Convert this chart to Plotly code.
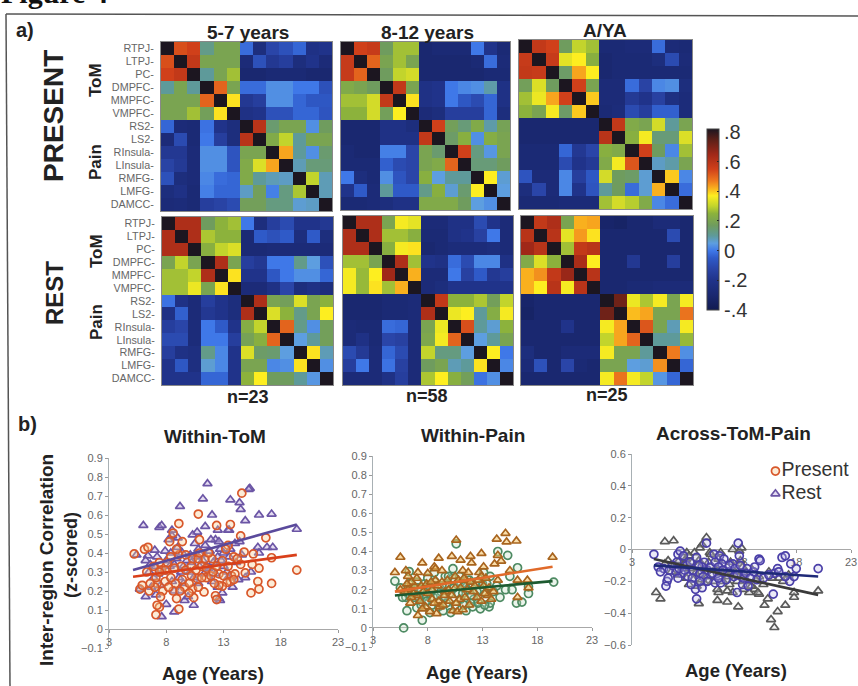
import plotly.graph_objects as go

W, H = 858, 686
D = 0.82

regions = ["RTPJ", "LTPJ", "PC", "DMPFC", "MMPFC", "VMPFC", "RS2", "LS2", "RInsula", "LInsula", "RMFG", "LMFG", "DAMCC"]
region_ticks = [r + "-" for r in regions]

present_5_7 = [
 [D,.53,.55,.12,.2,.2,-.02,-.25,-.12,-.08,-.03,-.22,-.2],
 [.53,D,.58,.2,.2,.2,-.27,-.08,-.18,-.15,-.25,-.2,-.27],
 [.55,.58,D,.1,.2,.27,-.3,-.3,-.28,-.28,-.28,-.3,-.3],
 [.1,.2,.1,D,.5,.2,-.02,-.02,.03,.03,.0,0,-.08],
 [.2,.2,.2,.5,D,.38,-.18,-.15,.03,.03,-.03,-.06,-.06],
 [.2,.2,.27,.18,.38,D,-.22,-.2,-.08,-.08,-.03,-.03,-.07],
 [-.03,-.27,-.28,-.01,-.2,-.25,D,.6,.15,.2,.2,.03,.17],
 [-.27,-.1,-.28,0,-.15,-.25,.6,D,.22,.3,.1,.2,.2],
 [-.18,-.18,-.27,.03,.03,-.07,.2,.2,D,.43,.1,.03,.15],
 [-.13,-.17,-.27,.03,.03,-.07,.22,.33,.43,D,.08,.14,.14],
 [-.08,-.25,-.27,.02,-.02,-.03,.22,.1,.08,.07,D,.3,.08],
 [-.25,-.22,-.28,.01,-.03,-.03,.07,.18,.01,.13,.28,D,.08],
 [-.27,-.26,-.28,-.15,-.13,-.1,.18,.18,.13,.13,.06,.07,D],
]
present_8_12 = [
 [D,.55,.57,.17,.27,.27,-.3,-.28,-.28,-.28,0,-.2,-.28],
 [.57,D,.5,.2,.27,.2,-.3,-.3,-.3,-.3,-.28,-.02,-.27],
 [.57,.5,D,.17,.3,.32,-.3,-.3,-.3,-.3,-.3,-.28,-.28],
 [.22,.2,.17,D,.58,.2,-.22,-.2,.0,.02,.03,.09,-.22],
 [.27,.27,.32,.58,D,.38,-.22,-.2,0,-.06,-.1,-.03,-.22],
 [.25,.25,.32,.18,.37,D,-.27,-.25,-.15,-.15,-.15,-.03,-.25],
 [-.3,-.3,-.3,-.22,-.22,-.25,D,.55,.18,.14,.22,.09,.19],
 [-.3,-.3,-.3,-.22,-.22,-.22,.58,D,.16,.24,.03,.23,.2],
 [-.28,-.3,-.3,.01,.01,-.12,.2,.15,D,.55,.13,.04,.2],
 [-.28,-.28,-.28,-.04,-.1,-.12,.2,.22,.5,D,.14,.14,.17],
 [0,-.25,-.28,.03,-.07,-.12,.24,.05,.1,.1,D,.37,.06],
 [-.2,-.05,-.27,.1,-.05,-.05,.12,.24,.06,.15,.37,D,.05],
 [-.28,-.28,-.27,-.25,-.22,-.22,.22,.22,.22,.17,.05,.03,D],
]
present_adult = [
 [D,.58,.55,.17,.3,.27,-.28,-.28,-.27,-.27,-.02,-.27,-.28],
 [.57,D,.57,.34,.37,.24,-.3,-.28,-.28,-.28,-.25,-.1,-.27],
 [.58,.57,D,.16,.43,.37,-.3,-.28,-.28,-.28,-.28,-.28,-.28],
 [.18,.33,.17,D,.55,.2,-.27,-.27,-.02,-.13,.02,.03,-.25],
 [.27,.35,.43,.55,D,.4,-.27,-.27,-.17,-.2,-.14,-.23,-.26],
 [.25,.2,.36,.16,.4,D,-.28,-.26,-.1,-.15,-.04,-.04,-.26],
 [-.3,-.3,-.3,-.3,-.3,-.3,D,.58,.22,.2,.32,.1,.2],
 [-.3,-.3,-.3,-.3,-.3,-.3,.6,D,.24,.36,.14,.14,.33],
 [-.28,-.28,-.28,-.03,-.18,-.12,.24,.22,D,.55,.17,.02,.27],
 [-.28,-.28,-.28,-.1,-.2,-.17,.22,.36,.52,D,.07,.09,.2],
 [-.07,-.27,-.27,.02,-.15,-.06,.32,.17,.16,.06,D,.4,.02],
 [-.25,-.12,-.27,.02,-.2,-.07,.1,.17,-.02,.06,.42,D,-.02],
 [-.28,-.28,-.28,-.27,-.27,-.27,.27,.32,.29,.22,.02,-.02,D],
]
rest_5_7 = [
 [D,.62,.62,.17,.25,.27,0,-.25,-.15,-.1,-.2,-.2,-.18],
 [.62,D,.62,.28,.25,.25,-.28,-.05,-.08,-.05,-.25,-.05,-.25],
 [.62,.62,D,.24,.3,.33,-.28,-.28,-.27,-.27,-.27,-.27,-.27],
 [.2,.3,.2,D,.62,.2,-.15,-.18,0,0,.12,.05,-.08],
 [.27,.27,.3,.62,D,.38,-.2,-.2,-.06,0,.03,.03,-.03],
 [.27,.27,.35,.2,.38,D,-.27,-.27,-.22,-.12,-.25,-.22,-.25],
 [-.01,-.22,-.27,-.15,-.2,-.25,D,.62,.2,.18,.33,.2,.25],
 [-.22,-.04,-.27,-.18,-.2,-.25,.62,D,.33,.25,.12,.2,.37],
 [-.15,-.12,-.26,0,-.05,-.2,.23,.3,D,.5,.12,.03,.18],
 [-.1,-.1,-.26,0,0,-.15,.19,.24,.5,D,.05,.1,.18],
 [-.15,-.22,-.24,.12,.02,-.2,.33,.16,.15,.05,D,.38,.08],
 [-.2,-.06,-.24,.06,.02,-.2,.2,.2,.02,.03,.38,D,.03],
 [-.2,-.2,-.2,-.03,-.03,-.2,.25,.37,.17,.17,.1,.04,D],
]
rest_8_12 = [
 [D,.62,.62,.2,.36,.34,-.27,-.27,-.22,-.22,-.1,-.2,-.27],
 [.62,D,.62,.27,.27,.24,-.28,-.28,-.22,-.2,-.14,0,-.27],
 [.62,.62,D,.24,.36,.38,-.3,-.28,-.26,-.26,-.26,-.25,-.27],
 [.27,.27,.2,D,.62,.27,-.2,-.22,-.02,-.1,.02,.02,-.22],
 [.36,.26,.37,.65,D,.42,-.27,-.27,0,-.14,-.05,-.18,-.15],
 [.36,.26,.38,.27,.42,D,-.27,-.25,-.2,-.2,-.2,-.2,-.2],
 [-.3,-.3,-.3,-.28,-.28,-.27,D,.58,.25,.25,.28,.18,.3],
 [-.3,-.3,-.3,-.28,-.28,-.27,.62,D,.35,.37,.1,.23,.36],
 [-.27,-.28,-.28,-.02,-.03,-.27,.2,.35,D,.53,.1,.06,.25],
 [-.27,-.22,-.28,-.12,-.14,-.27,.21,.36,.5,D,.05,.1,.2],
 [-.1,-.17,-.27,-.03,-.1,-.27,.3,.13,.13,.05,D,.37,0],
 [-.15,0,-.27,-.01,-.14,-.27,.17,.2,.08,.1,.38,D,.02],
 [-.27,-.27,-.27,-.22,-.15,-.27,.28,.37,.24,.18,-.01,.03,D],
]
rest_adult = [
 [D,.58,.62,.2,.42,.43,-.32,-.33,-.3,-.3,-.27,-.27,-.3],
 [.6,D,.6,.34,.44,.38,-.3,-.3,-.3,-.3,-.3,-.1,-.3],
 [.65,.6,D,.27,.58,.6,-.3,-.3,-.3,-.3,-.3,-.3,-.3],
 [.22,.33,.25,D,.63,.37,-.3,-.3,-.18,-.3,-.3,-.15,-.3],
 [.42,.45,.58,.66,D,.6,-.3,-.3,-.3,-.3,-.3,-.3,-.3],
 [.42,.37,.6,.36,.6,D,-.3,-.3,-.28,-.28,-.27,-.27,-.27],
 [-.32,-.3,-.3,-.3,-.3,-.3,D,.72,.35,.28,.36,.2,.36],
 [-.33,-.3,-.3,-.3,-.3,-.3,.72,D,.41,.43,.2,.2,.48],
 [-.3,-.3,-.3,-.2,-.3,-.3,.36,.43,D,.52,.2,.08,.36],
 [-.3,-.3,-.3,-.3,-.3,-.3,.3,.43,.5,D,.1,.1,.26],
 [-.25,-.3,-.3,-.27,-.27,-.27,.36,.2,.2,.1,D,.47,.03],
 [-.27,-.08,-.3,-.12,-.28,-.3,.2,.2,.05,.06,.45,D,-.03],
 [-.3,-.3,-.3,-.3,-.3,-.3,.36,.48,.36,.3,.04,-.03,D],
]

tom_rest = [(11.6,.765),(15.3,.74),(15.2,.735),(13.6,.68),(11.2,.685),(14.4,.665),(14.5,.63),(9.2,.645),(12,.6),(16.1,.6),(17.2,.605),(14.9,.57),(6,.545),(7.4,.535),(7.6,.545),(11.4,.54),(8.5,.52),(10.7,.51),(10.3,.495),(13.5,.52),(13.4,.52),(12.5,.52),(8.2,.47),(9,.48),(8.5,.49),(19.4,.525),(12.3,.47),(11.9,.47),(12.6,.46),(14,.45),(14.4,.46),(16,.43),(16.8,.43),(17.3,.43),(16.1,.4),(5.4,.39),(6.4,.385),(7,.415),(7.9,.41),(6.2,.36),(6.6,.34),(7.1,.33),(8.3,.33),(9,.43),(9.4,.4),(10.5,.45),(10.8,.42),(11.4,.44),(11.8,.41),(12.5,.38),(13,.4),(13.6,.42),(13.5,.38),(12.8,.36),(10.2,.35),(10.9,.33),(9.5,.33),(8.7,.34),(15.4,.3),(14.9,.27),(14.3,.26),(13.8,.22),(12.5,.22),(12.7,.15),(12.6,.16),(9.6,.15),(9.9,.17),(10.4,.125),(8.7,.09),(7.6,.065),(8,.13),(6.2,.17),(7.1,.18),(5.7,.21),(6.9,.27),(8.5,.25),(9.5,.24),(11.3,.29),(11.7,.32),(10.4,.27),(13,.33),(14.1,.35),(12.3,.29),(11,.39),(10.1,.39),(9.1,.27),(7.5,.23),(6.5,.3),(8,.36),(7.2,.38),
 (7.7,.3),(8.9,.37),(9.8,.36),(10.6,.38),(11.2,.36),(12.1,.35),(12.7,.42),(13.3,.3),(14.6,.39),(11.5,.33),(10.1,.3),(9.3,.3),(7.3,.29),(8.4,.4),(6.7,.22),(9.2,.2),(8.7,.2),(10.8,.24),(12,.25),(13.4,.27),(12.9,.19)]
tom_present = [(14.6,.715),(10.8,.605),(9.1,.555),(12.4,.545),(13.6,.55),(14.5,.49),(16.7,.48),(8.6,.505),(8.3,.46),(9.4,.46),(10.9,.47),(5.2,.395),(6.1,.42),(6.4,.43),(14.8,.405),(15.6,.395),(17.2,.375),(19.4,.31),(16.1,.32),(15.5,.34),(14.9,.295),(13.9,.38),(14.2,.37),(13.4,.44),(13.7,.28),(13.6,.25),(13.3,.245),(16,.25),(15.4,.19),(16.1,.21),(17.2,.24),(12.9,.225),(12.6,.23),(12.3,.175),(12.4,.155),(11.3,.195),(11.5,.27),(10.7,.265),(10.4,.165),(10.3,.21),(9.6,.22),(8.8,.24),(8.9,.16),(8.6,.2),(9.1,.105),(7.4,.115),(7.2,.125),(7.1,.075),(7.7,.2),(7.2,.24),(7.1,.27),(6.5,.2),(5.7,.21),(5.9,.23),(7.9,.25),(8.4,.27),(8.1,.35),(9.3,.33),(9.1,.39),(8.9,.42),(10.3,.37),(10.8,.37),(11.4,.37),(11.1,.33),(12,.37),(11.9,.28),(12.6,.29),(11.1,.27),(12.1,.3),(14,.29),(10.2,.28),(7.4,.35),(6.3,.3),(6.9,.33),(8.7,.32),(13.2,.42),(10.9,.4),(9.7,.31),
 (7.6,.31),(7.9,.31),(8.4,.38),(9.7,.39),(10.2,.33),(10.6,.31),(11.5,.32),(12.4,.33),(12.9,.36),(13.4,.33),(14.5,.34),(13,.28),(12.2,.24),(10.8,.22),(10,.24),(9.4,.26),(8.2,.22),(7,.22),(6.6,.24),(7.4,.3),(11.7,.4),(13.9,.26),(10,.19),(9.2,.2),(7.5,.17)]
tom_rest_fit = [(5.1,.31),(19.4,.55)]
tom_present_fit = [(5.1,.275),(19.4,.39)]

pain_rest = [(15.1,.495),(14.3,.465),(15.2,.45),(16.1,.455),(10.6,.46),(5.5,.37),(9,.365),(10.2,.375),(11,.355),(11.9,.375),(12.9,.39),(14.4,.38),(14.7,.35),(14.1,.335),(12,.34),(7.5,.34),(8.6,.32),(8.7,.31),(9.3,.3),(13.1,.32),(5,.29),(6,.3),(6.2,.27),(7.1,.29),(8,.285),(19.4,.37),(15.5,.3),(16.2,.25),(17.1,.25),(17.2,.21),(16.2,.16),(11.2,.3),(11.7,.29),(12.7,.29),(12.9,.27),(10.5,.27),(10.8,.25),(11.5,.25),(13.1,.22),(13.5,.17),(12.5,.16),(12.9,.14),(11.8,.12),(11.6,.2),(10.9,.15),(10.3,.09),(10.7,.085),(11.2,.095),(9,.14),(9.1,.11),(8.8,.075),(9.6,.19),(8.2,.085),(7.8,.11),(7.1,.065),(7.6,.19),(7,.17),(6.8,.22),(6.2,.2),(5.9,.19),(6.5,.16),(8.4,.2),(8.7,.25),(9.8,.25),(13.8,.15),(14.4,.25),
 (6.5,.24),(7,.26),(7.4,.22),(7.9,.23),(8.3,.24),(8.9,.22),(9.3,.24),(9.5,.17),(8.4,.15),(8,.18),(7.3,.14),(6.7,.18),(6.1,.23),(5.5,.2),(9.9,.2),(10.2,.17),(10.5,.21),(11,.21),(11.3,.26),(11.9,.24),(12.3,.22),(12.6,.25),(12.2,.19),(13.3,.26),(13.6,.21),(11.4,.16),(10,.14),(10.6,.13),(8.6,.13),(9.4,.12),(7.5,.1),(6.4,.13),(14,.19),(13.2,.18)]
pain_present = [(10.6,.44),(14.4,.4),(15.3,.38),(16.2,.315),(15.5,.27),(10.3,.31),(9.6,.27),(8.6,.29),(5,.245),(5.5,.21),(6.3,.295),(7,.24),(7.7,.23),(6.1,.09),(7,.105),(7.5,.04),(5.8,0),(8.3,.19),(7.8,.17),(7.4,.12),(9,.11),(9.7,.13),(10.1,.08),(11.5,.09),(12.8,.1),(13.6,.11),(12.8,.2),(13.1,.29),(14.6,.16),(15.1,.2),(15.7,.2),(16.1,.13),(16.6,.135),(17.2,.18),(17.2,.215),(19.5,.24),(13.7,.13),(13,.23),(13.7,.27),(12.4,.24),(11.6,.2),(11,.24),(12.2,.15),(10.3,.26),(10.8,.18),(11,.15),(9.2,.19),(8.7,.24),(8,.26),(6.8,.16),(6.5,.19),(6,.16),(7.3,.2),(12.1,.11),(9.7,.23),
 (6.2,.18),(6.7,.2),(7.1,.21),(7.6,.16),(8.1,.22),(8.5,.16),(8.9,.17),(9.3,.22),(9.6,.16),(10,.18),(10.4,.21),(10.7,.23),(11.2,.18),(11.4,.22),(11.8,.25),(12,.17),(12.5,.19),(12.6,.13),(13.3,.18),(13.4,.23),(14,.19),(14.3,.22),(8.4,.12),(7.9,.14),(7.2,.16),(6.3,.23),(9.9,.27),(10.9,.27),(11.9,.13),(5.7,.16),(8.2,.08),(13.2,.12),(9.4,.09),(10.5,.12),(11.3,.12)]
pain_rest_fit = [(5,.19),(19.4,.32)]
pain_present_fit = [(5,.17),(19.4,.245)]

across_rest = [(6.0,.05),(6.8,.055),(9.8,.075),(9.4,.03),(9.2,.01),(8.7,-.02),(8,-.02),(10.1,-.02),(11.1,-.02),(12.2,0),(12.8,-.01),(13,.01),(5.2,-.27),(5.6,-.31),(8.2,-.22),(8.9,-.23),(9.6,-.21),(9.1,-.34),(10.8,-.32),(11.7,-.33),(12.7,-.36),(14.2,-.25),(14.6,-.28),(15.1,-.35),(15.4,-.31),(15.7,-.44),(16,-.49),(16.3,-.39),(17,-.35),(17.8,-.3),(17.8,-.27),(20,-.26),(14.5,-.27),(13.7,-.27),(13.2,-.25),(12.2,-.27),(11.7,-.26),(10.9,-.27),(10.8,-.25),(11.3,-.2),(11.8,-.17),(13.2,-.15),(14,-.13),(14.6,-.17),(15.5,-.14),(16.4,-.18),(17.3,-.16),(9,-.1),(8.5,-.08),(8.3,-.12),(8,-.18),(7.6,-.12),(6.3,-.07),(6.8,-.1),(9.3,-.14),(9.9,-.17),(10.2,-.03),(11,-.1),(12,-.08),(13.1,-.11),(10.5,-.13),(7.9,-.06),(9.1,-.07),
 (6.6,-.14),(7.2,-.16),(7.8,-.09),(8.2,-.04),(8.8,-.15),(9.4,-.19),(10,-.08),(10.4,-.2),(10.9,-.06),(11.5,-.13),(11.9,-.22),(12.4,-.14),(12.6,-.2),(13.5,-.2),(13.9,-.23),(14.3,-.19),(15,-.22),(15.8,-.18),(16.8,-.2),(9.7,-.12),(8.6,-.19),(11.2,-.15),(12.9,-.07),(7.3,-.07),(6,-.09)]
across_present = [(5,-.03),(5.4,-.11),(5.9,-.12),(6.2,-.2),(6.3,-.18),(6.1,-.23),(7.1,-.08),(7.2,-.03),(7.4,-.01),(7.7,-.04),(8,-.1),(8.6,-.13),(8.8,-.25),(9.4,-.24),(8.9,-.31),(9.2,-.15),(9.8,.04),(9.6,-.08),(9.9,-.13),(10.5,-.03),(11,-.04),(11.4,-.06),(11.2,-.09),(10.8,-.15),(10.6,-.21),(11.1,-.21),(10.9,-.18),(12.2,-.09),(12.7,.04),(12.8,-.04),(12.6,-.27),(13.1,-.22),(13.6,-.23),(14.4,-.19),(14.6,-.06),(14.7,-.07),(15.9,-.28),(16,-.15),(16.3,-.12),(16.7,-.05),(17,-.04),(17.4,-.2),(17.5,-.09),(18,-.12),(17.8,-.17),(20,-.12),(13.5,-.12),(14.1,-.14),(13.2,-.18),(9.4,-.11),(8.1,-.17),(7.5,-.15),(7,-.14),(6.4,-.13),(11.8,-.14),(12.3,-.17),
 (5.6,-.14),(6.7,-.1),(7.3,-.12),(7.8,-.13),(8.3,-.08),(8.5,-.18),(8.9,-.05),(9.1,-.1),(9.5,-.17),(9.9,-.2),(10.2,-.11),(10.6,-.08),(10.9,-.11),(11.3,-.13),(11.6,-.19),(11.9,-.1),(12.4,-.12),(12.6,-.16),(12.9,-.1),(13.4,-.15),(13.8,-.18),(14.2,-.11),(15,-.18),(15.5,-.16),(16.4,-.14),(17,-.17),(10.3,-.15),(8.4,-.22),(7.2,-.18),(9.2,-.2)]
across_rest_fit = [(5,-.06),(20,-.285)]
across_present_fit = [(5,-.1),(20,-.17)]

colorbar_ticks = [.8, .6, .4, .2, 0, -.2, -.4]
colorbar_labels = [".8", ".6", ".4", ".2", "0", "-.2", "-.4"]
ZMIN, ZMAX = -0.4, 0.82

stops = [(-.4,"#111a50"),(-.3,"#1a2870"),(-.2,"#20338a"),(-.12,"#2a45a8"),(-.05,"#2f5ac8"),(0,"#3f78e8"),
         (.05,"#5d9ee0"),(.1,"#5e9a9a"),(.17,"#6f9c5e"),(.25,"#8cb23c"),(.3,"#c2d42c"),(.37,"#fdee20"),
         (.42,"#f9b01e"),(.47,"#ee7a1e"),(.55,"#d0401a"),(.65,"#a02818"),(.75,"#5a2018"),(.82,"#1c1620")]
colorscale = [[(v-ZMIN)/(ZMAX-ZMIN), c] for v, c in stops]

FONT = "Liberation Sans"
fig = go.Figure()

def dom_x(a, b): return [a/W, b/W]
def dom_y(top, bottom): return [1-bottom/H, 1-top/H]

heat_panels = [
    (present_5_7, 161, 332, 42, 211, True),
    (present_8_12, 341, 510, 42, 210, False),
    (present_adult, 519, 692, 40, 209, False),
    (rest_5_7, 162, 333, 217, 385, True),
    (rest_8_12, 343, 513, 216, 385, False),
    (rest_adult, 521, 693, 216, 385, False),
]
layout = {}
n = 0
for z, x0, x1, y0, y1, labelled in heat_panels:
    n += 1
    xn, yn = f"x{n}", f"y{n}"
    fig.add_trace(go.Heatmap(z=z, x=regions, y=regions, coloraxis="coloraxis", xaxis=xn, yaxis=yn, hoverinfo="skip"))
    layout[f"xaxis{n}"] = dict(domain=dom_x(x0, x1), anchor=yn, showticklabels=False, ticks="", showline=True, mirror=True,
                               linecolor="#888", linewidth=1, showgrid=False, zeroline=False)
    layout[f"yaxis{n}"] = dict(domain=dom_y(y0, y1), anchor=xn, autorange="reversed", showline=True, mirror=True,
                               linecolor="#888", linewidth=1, showgrid=False, zeroline=False, ticks="",
                               showticklabels=labelled, tickmode="array", tickvals=regions, ticktext=region_ticks,
                               ticklabelstandoff=4, tickfont=dict(family=FONT, size=10.8, color="#666"))

def pts(trace, name, axn, symbol, line_col, fill, size=8, width=1.7):
    fig.add_trace(go.Scatter(x=[p[0] for p in trace], y=[p[1] for p in trace], mode="markers", name=name,
                             xaxis=f"x{axn}", yaxis=f"y{axn}", showlegend=False, hoverinfo="skip",
                             marker=dict(symbol=symbol, size=size, color=fill, line=dict(color=line_col, width=width))))

def fit(trace, axn, col, width=2.6):
    fig.add_trace(go.Scatter(x=[p[0] for p in trace], y=[p[1] for p in trace], mode="lines", xaxis=f"x{axn}", yaxis=f"y{axn}",
                             showlegend=False, hoverinfo="skip", line=dict(color=col, width=width)))

sc = [
    (7, 109, 338, 458, 648, 629, [-.1, .9], .1),
    (8, 373, 592, 456, 647, 627, [-.1, .9], .1),
    (9, 632, 851, 454, 645, 549, [-.6, .6], .2),
]
for axn, x0, x1, y0, y1, yz, rng, dt in sc:
    layout[f"xaxis{axn}"] = dict(domain=dom_x(x0, x1), range=[3, 23], tick0=3, dtick=5, anchor="free", position=1-yz/H,
                                 showgrid=False, zeroline=False, showline=True, linecolor="#a8a8a8", linewidth=1,
                                 ticks="outside", ticklen=3, tickcolor="#999", layer="below traces",
                                 tickfont=dict(family=FONT, size=11, color="#666"))
    layout[f"yaxis{axn}"] = dict(domain=dom_y(y0, y1), range=rng, dtick=dt, anchor=f"x{axn}", showgrid=False, zeroline=False,
                                 showline=True, linecolor="#a8b0b4", linewidth=1, ticks="outside", ticklen=3, tickcolor="#999",
                                 layer="below traces", tickfont=dict(family=FONT, size=11, color="#666"))

pts(tom_rest, "Rest", 7, "triangle-up", "#6b55a5", "rgba(195,178,225,0.45)")
pts(tom_present, "Present", 7, "circle", "#d8572a", "rgba(245,200,140,0.35)")
fit(tom_rest_fit, 7, "#5a4a9c")
fit(tom_present_fit, 7, "#d9401a")

pts(pain_present, "Present", 8, "circle", "#4d8a62", "rgba(190,220,190,0.3)")
pts(pain_rest, "Rest", 8, "triangle-up", "#a8641e", "rgba(245,195,100,0.55)")
fit(pain_rest_fit, 8, "#e06a2a")
fit(pain_present_fit, 8, "#1d5a30")

pts(across_rest, "Rest", 9, "triangle-up", "#5a5a5a", "rgba(225,225,225,0.35)")
pts(across_present, "Present", 9, "circle", "#4a3fa8", "rgba(190,185,230,0.3)")
fit(across_rest_fit, 9, "#3a3a3a")
fit(across_present_fit, 9, "#1f2a78")

legend_x = [16.1, 16.1]
legend_y = [.493, .35]
legend_names = ["Present", "Rest"]
fig.add_trace(go.Scatter(x=legend_x[:1], y=legend_y[:1], text=legend_names[:1], mode="markers+text", textposition="middle right",
                         xaxis="x9", yaxis="y9", showlegend=False, hoverinfo="skip", cliponaxis=False,
                         textfont=dict(family=FONT, size=19.5, color="#333"),
                         marker=dict(symbol="circle", size=8, color="rgba(245,200,140,0.35)", line=dict(color="#d8572a", width=1.7))))
fig.add_trace(go.Scatter(x=legend_x[1:], y=legend_y[1:], text=legend_names[1:], mode="markers+text", textposition="middle right",
                         xaxis="x9", yaxis="y9", showlegend=False, hoverinfo="skip", cliponaxis=False,
                         textfont=dict(family=FONT, size=19.5, color="#333"),
                         marker=dict(symbol="triangle-up", size=8, color="rgba(195,178,225,0.45)", line=dict(color="#6b55a5", width=1.7))))

def note(text, x, y, size=14, rot=0, bold=True, color="#222", family=FONT, yanchor="middle"):
    t = f"<b>{text}</b>" if bold else text
    return dict(text=t, x=x/W, y=1-y/H, xref="paper", yref="paper", showarrow=False, textangle=rot,
                xanchor="center", yanchor=yanchor, font=dict(family=family, size=size, color=color))

annots = [
    note("Figure 4", 55, 11, 30, family="Liberation Serif", color="#111", yanchor="bottom"),
    note("a)", 25, 30, 20), note("b)", 27, 424, 20),
    note("5-7 years", 248, 32, 19), note("8-12 years", 427, 32, 19), note("A/YA", 605, 31, 19),
    note("PRESENT", 54, 116, 28, -90), note("REST", 54, 293, 24, -90),
    note("ToM", 96, 80, 17, -90), note("Pain", 96, 162, 17, -90),
    note("ToM", 96, 251, 17, -90), note("Pain", 96, 322, 17, -90),
    note("n=23", 248, 397, 18), note("n=58", 427, 396, 18), note("n=25", 607, 395, 18),
    note("Within-ToM", 215, 436, 19), note("Within-Pain", 473, 435, 19), note("Across-ToM-Pain", 733, 433, 19),
    note("Age (Years)", 213, 673, 18.5), note("Age (Years)", 477, 672, 18.5), note("Age (Years)", 736, 670, 18.5),
    note("Inter-region Correlation", 46, 560, 19, -90), note("(z-scored)", 71, 555, 18, -90),
]

shapes = [
    dict(type="line", xref="paper", yref="paper", x0=6/W, x1=10/W, y0=1-14/H, y1=0, line=dict(color="#555", width=1.5)),
    dict(type="line", xref="paper", yref="paper", x0=6/W, x1=1, y0=1-14/H, y1=1-16/H, line=dict(color="#555", width=1.5)),
]

fig.update_layout(
    width=W, height=H, margin=dict(l=0, r=0, t=0, b=0, autoexpand=False), autosize=False,
    paper_bgcolor="white", plot_bgcolor="rgba(0,0,0,0)", showlegend=False,
    annotations=annots, shapes=shapes,
    coloraxis=dict(cmin=ZMIN, cmax=ZMAX, colorscale=colorscale,
                   colorbar=dict(x=707/W, xanchor="left", y=1-129/H, yanchor="top", len=181, lenmode="pixels",
                                 thickness=12, thicknessmode="pixels", xpad=0, ypad=0, outlinewidth=1, outlinecolor="#444",
                                 tickmode="array", tickvals=colorbar_ticks, ticktext=colorbar_labels, ticks="inside", ticklen=2,
                                 tickcolor="#222", tickfont=dict(family=FONT, size=20, color="#333"))),
    **layout,
)
fig.write_html("out.html", config={"displayModeBar": False}, post_script="document.body.style.margin='0';document.documentElement.style.overflow='hidden';")
